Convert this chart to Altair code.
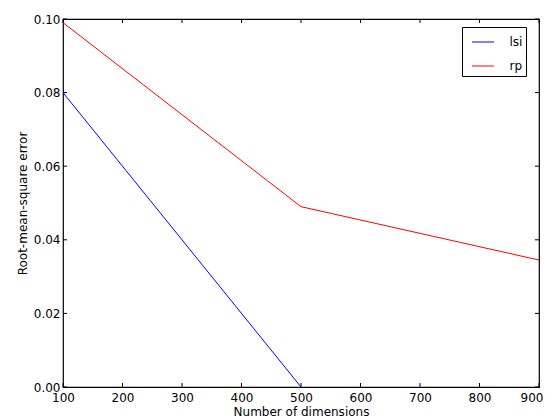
import altair as alt
import pandas as pd

lsi_x = [100, 500]
lsi_y = [0.080, 0.0]
rp_x = [100, 500, 900]
rp_y = [0.099, 0.049, 0.0345]
x_ticks = [100, 200, 300, 400, 500, 600, 700, 800, 900]
y_ticks = [0.0, 0.02, 0.04, 0.06, 0.08, 0.10]

W, H = 476, 368

df = pd.concat([
    pd.DataFrame({"x": lsi_x, "y": lsi_y, "method": "lsi"}),
    pd.DataFrame({"x": rp_x, "y": rp_y, "method": "rp"}),
])
xt = pd.DataFrame({"v": x_ticks})
yt = pd.DataFrame({"v": y_ticks})

xs = alt.Scale(domain=[100, 900], nice=False, zero=False)
ys = alt.Scale(domain=[0, 0.1], nice=False)

font = "DejaVu Sans"

lines = alt.Chart(df).mark_line(strokeWidth=1, clip=True).encode(
    x=alt.X("x:Q", scale=xs, title="Number of dimensions",
            axis=alt.Axis(values=x_ticks, format="d", ticks=False, grid=False, domain=False,
                          labelFont=font, labelFontSize=12, labelColor="black", labelPadding=5,
                          labelAlign={"condition": {"test": "datum.value == 900", "value": "right"},
                                      "value": "center"},
                          labelOffset={"condition": {"test": "datum.value == 900", "value": 4},
                                       "value": 0},
                          titleFont=font, titleFontSize=12, titleFontWeight="normal",
                          titleColor="black", titlePadding=3, labelFlush=False)),
    y=alt.Y("y:Q", scale=ys, title="Root-mean-square error",
            axis=alt.Axis(values=y_ticks, format=".2f", ticks=False, grid=False, domain=False,
                          labelFont=font, labelFontSize=12, labelColor="black", labelPadding=3,
                          titleFont=font, titleFontSize=12, titleFontWeight="normal",
                          titleColor="black", titlePadding=4, labelFlush=False)),
    color=alt.Color("method:N",
                    scale=alt.Scale(domain=["lsi", "rp"], range=["#0000ff", "#ff0000"]),
                    legend=alt.Legend(title=None, orient="none", legendX=399, legendY=8,
                                      symbolType="stroke", symbolSize=484, symbolStrokeWidth=1,
                                      symbolOffset=6, rowPadding=6,
                                      labelFont=font, labelFontSize=12, labelColor="black",
                                      labelExpr="datum.label + ' '",
                                      strokeColor="black", fillColor="white", padding=3.5,
                                      labelOffset=15, cornerRadius=0)),
    order="x:Q",
)

tick_style = dict(color="black", strokeWidth=1)
xb = alt.Chart(xt).mark_rule(**tick_style).encode(
    x=alt.X("v:Q", scale=xs), y=alt.value(H), y2=alt.value(H - 4))
xtop = alt.Chart(xt).mark_rule(**tick_style).encode(
    x=alt.X("v:Q", scale=xs), y=alt.value(0), y2=alt.value(4))
yl = alt.Chart(yt).mark_rule(**tick_style).encode(
    y=alt.Y("v:Q", scale=ys), x=alt.value(0), x2=alt.value(4))
yr = alt.Chart(yt).mark_rule(**tick_style).encode(
    y=alt.Y("v:Q", scale=ys), x=alt.value(W), x2=alt.value(W - 4))

chart = alt.layer(lines, xb, xtop, yl, yr).properties(
    width=W, height=H,
    background="white",
    autosize=alt.AutoSizeParams(type="none"),
    padding={"left": 55, "top": 11, "right": 4, "bottom": 30},
).configure_view(stroke="black", strokeWidth=1.2)

chart.save("out.html", embed_options={"renderer": "svg", "actions": False})
